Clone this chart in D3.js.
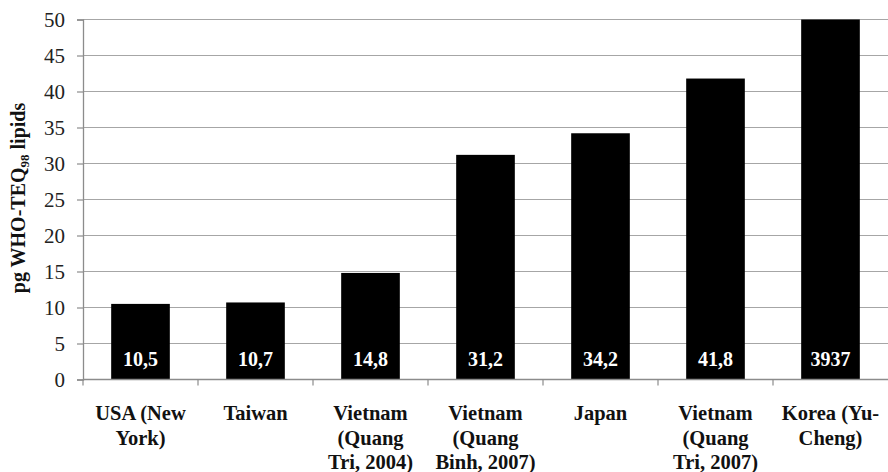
<!DOCTYPE html>
<html>
<head>
<meta charset="utf-8">
<script src="https://cdn.jsdelivr.net/npm/d3@7"></script>
<style>
  html, body { margin: 0; padding: 0; background: #fff; }
  svg { display: block; }
</style>
</head>
<body>
<svg id="chart" width="888" height="472"></svg>
<script>
// Dioxin levels in lipids by location
const categories = [
  ["USA (New", "York)"],
  ["Taiwan"],
  ["Vietnam", "(Quang", "Tri, 2004)"],
  ["Vietnam", "(Quang", "Binh, 2007)"],
  ["Japan"],
  ["Vietnam", "(Quang", "Tri, 2007)"],
  ["Korea (Yu-", "Cheng)"]
];
const values = [10.5, 10.7, 14.8, 31.2, 34.2, 41.8, 3937];
const valueLabels = ["10,5", "10,7", "14,8", "31,2", "34,2", "41,8", "3937"];
const yTicks = [0, 5, 10, 15, 20, 25, 30, 35, 40, 45, 50];

const SERIF = "'Liberation Serif'";

const svg = d3.select("#chart").style("font-family", SERIF);
const plotLeft = 83, plotRight = 888, plotTop = 19.5, plotBottom = 379.5;

const x = d3.scaleBand()
  .domain(d3.range(categories.length))
  .range([plotLeft, plotRight])
  .paddingInner(0.49)
  .paddingOuter(0.245);

const y = d3.scaleLinear().domain([0, 50]).range([plotBottom, plotTop]).clamp(true);

// horizontal gridlines
svg.append("g").selectAll("line")
  .data(yTicks.filter(d => d > 0))
  .join("line")
  .attr("x1", plotLeft).attr("x2", plotRight)
  .attr("y1", d => y(d)).attr("y2", d => y(d))
  .attr("stroke", "#a6a6a6").attr("stroke-width", 1.2);

// y axis
const yAxis = d3.axisLeft(y).tickValues(yTicks).tickSize(6).tickPadding(12).tickFormat(d3.format("d"));
const gy = svg.append("g").attr("transform", `translate(${plotLeft},0)`).call(yAxis);
gy.style("font-family", SERIF);
gy.select(".domain").attr("stroke", "#8c8c8c").attr("stroke-width", 1.3);
gy.selectAll(".tick line").attr("stroke", "#8c8c8c").attr("stroke-width", 1.2);
gy.selectAll(".tick text")
  .style("font-family", SERIF)
  .attr("font-size", 21).attr("fill", "#222");

// bars
svg.append("g").selectAll("rect")
  .data(values)
  .join("rect")
  .attr("x", (d, i) => x(i))
  .attr("width", x.bandwidth())
  .attr("y", d => y(d))
  .attr("height", d => y(0) - y(d))
  .attr("fill", "#000");

// x axis baseline and category separators
svg.append("line")
  .attr("x1", plotLeft).attr("x2", plotRight)
  .attr("y1", y(0)).attr("y2", y(0))
  .attr("stroke", "#8c8c8c").attr("stroke-width", 1.4);
const step = x.step();
svg.append("g").selectAll("line")
  .data(d3.range(categories.length))
  .join("line")
  .attr("x1", d => plotLeft + step * d).attr("x2", d => plotLeft + step * d)
  .attr("y1", y(0)).attr("y2", y(0) + 6)
  .attr("stroke", "#8c8c8c").attr("stroke-width", 1.2);

// value labels inside bars
svg.append("g").selectAll("text")
  .data(values)
  .join("text")
  .attr("x", (d, i) => x(i) + x.bandwidth() / 2)
  .attr("y", y(0) - 13.5)
  .attr("text-anchor", "middle")
  .style("font-family", SERIF)
  .attr("font-size", 20).attr("font-weight", "bold")
  .attr("fill", "#fff")
  .text((d, i) => valueLabels[i]);

// category labels
const cat = svg.append("g").selectAll("text")
  .data(categories)
  .join("text")
  .attr("text-anchor", "middle")
  .style("font-family", SERIF)
  .attr("font-size", 20.5).attr("font-weight", "bold")
  .attr("fill", "#111");
cat.each(function(lines, i) {
  const t = d3.select(this);
  lines.forEach((ln, j) => {
    t.append("tspan")
      .attr("x", x(i) + x.bandwidth() / 2)
      .attr("y", 420 + j * 24.5)
      .text(ln);
  });
});

// y axis title
const title = svg.append("text")
  .attr("transform", "translate(25,198) rotate(-90)")
  .attr("text-anchor", "middle")
  .style("font-family", SERIF)
  .attr("font-size", 20).attr("font-weight", "bold")
  .attr("fill", "#111");
title.append("tspan").text("pg WHO-TEQ");
title.append("tspan").attr("font-size", 13).attr("dy", 4).text("98");
title.append("tspan").attr("dy", -4).text(" lipids");
</script>
</body>
</html>
